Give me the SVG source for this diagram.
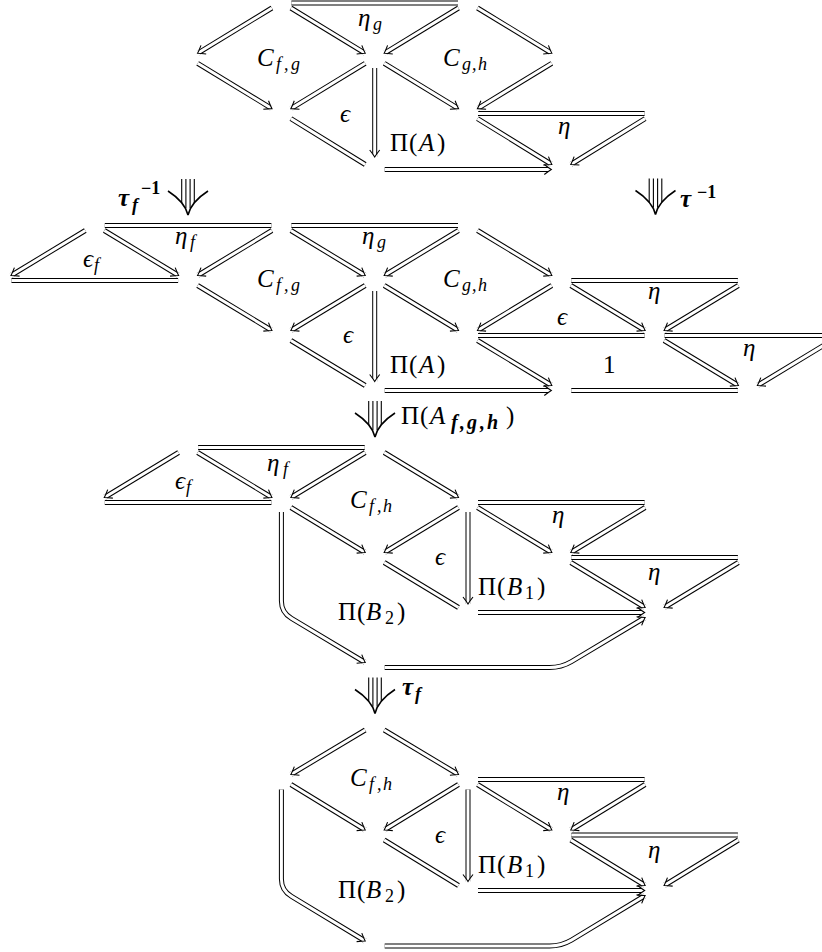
<svg xmlns="http://www.w3.org/2000/svg" width="822" height="952" viewBox="0 0 822 952">
<style>
.o{fill:none;stroke:#000;stroke-width:5}
.i{fill:none;stroke:#fff;stroke-width:3}
.h{marker-end:url(#h)}
text{font-family:"Liberation Serif","DejaVu Serif",serif;font-size:25px;fill:#000}
.it{font-style:italic}
.up{font-style:normal}
.s{font-size:18px}
.b{font-weight:bold}
</style>
<defs>
<marker id="h" markerUnits="userSpaceOnUse" orient="auto" markerWidth="20" markerHeight="20" viewBox="-10 -10 20 20" refX="0" refY="0" overflow="visible">
<path d="M-3.9,-2.7 L-3,-2 L-2.32,-1.52 L-1.375,-0.875 L-0.52,-0.32 L0,0 L-0.52,0.32 L-1.375,0.875 L-2.32,1.52 L-3,2 L-3.9,2.7 L1,2.7 L1,-2.7 Z" fill="#fff"/>
<path d="M-7,-5 Q-2.5,-1.5 0,0 Q-2.5,1.5 -7,5" fill="none" stroke="#000" stroke-width="1.1"/>
</marker>
<path id="a1" d="M271.9,8 L197.6,53.3"/>
<path id="a2" d="M290.9,8 L365.2,53.3"/>
<path id="a3" d="M458.5,8 L384.2,53.3"/>
<path id="a4" d="M477.5,8 L551.8,53.3"/>
<path id="a5" d="M291.4,3 L458,3"/>
<path id="a6" d="M197.6,63.3 L271.9,108.6"/>
<path id="a7" d="M365.2,63.3 L290.9,108.6"/>
<path id="a8" d="M384.2,63.3 L458.5,108.6"/>
<path id="a9" d="M551.8,63.3 L477.5,108.6"/>
<path id="a10" d="M374.7,68 L374.7,157"/>
<path id="a11" d="M290.9,118.6 L365.2,164.5"/>
<path id="a12" d="M478,113.6 L644.6,113.6"/>
<path id="a13" d="M477.5,118.6 L551.8,164.5"/>
<path id="a14" d="M645.1,118.6 L570.8,164.5"/>
<path id="a15" d="M384.7,169.5 L551.3,169.5"/>
<path id="b1" d="M104.8,225.5 L271.4,225.5"/>
<path id="b2" d="M291.4,225.5 L458,225.5"/>
<path id="b3" d="M85.3,230.5 L11,275.5"/>
<path id="b4" d="M104.3,230.5 L178.6,275.5"/>
<path id="b5" d="M11.5,280.5 L178.1,280.5"/>
<path id="b6" d="M271.9,230.5 L197.6,275.5"/>
<path id="b7" d="M290.9,230.5 L365.2,275.5"/>
<path id="b8" d="M458.5,230.5 L384.2,275.5"/>
<path id="b9" d="M477.5,230.5 L551.8,275.5"/>
<path id="b10" d="M197.6,285.5 L271.9,330.5"/>
<path id="b11" d="M365.2,285.5 L290.9,330.5"/>
<path id="b12" d="M384.2,285.5 L458.5,330.5"/>
<path id="b13" d="M551.8,285.5 L477.5,330.5"/>
<path id="b14" d="M374.7,291 L374.7,381.5"/>
<path id="b15" d="M571.3,280.5 L737.9,280.5"/>
<path id="b16" d="M570.8,285.5 L645.1,330.5"/>
<path id="b17" d="M738.4,285.5 L664.1,330.5"/>
<path id="b18" d="M478,335.5 L644.6,335.5"/>
<path id="b19" d="M664.6,335.5 L831.2,335.5"/>
<path id="b20" d="M290.9,340.5 L365.2,385.5"/>
<path id="b21" d="M477.5,340.5 L551.8,385.5"/>
<path id="b22" d="M664.1,340.5 L738.4,385.5"/>
<path id="b23" d="M831.7,340.5 L757.4,385.5"/>
<path id="b24" d="M384.7,390.5 L551.3,390.5"/>
<path id="b25" d="M571.3,390.5 L737.9,390.5"/>
<path id="c1" d="M198.1,447.5 L364.7,447.5"/>
<path id="c2" d="M178.6,452.5 L104.3,497.5"/>
<path id="c3" d="M197.6,452.5 L271.9,497.5"/>
<path id="c4" d="M104.8,502.5 L271.4,502.5"/>
<path id="c5" d="M365.2,452.5 L290.9,497.5"/>
<path id="c6" d="M384.2,452.5 L458.5,497.5"/>
<path id="c7" d="M290.9,507.5 L365.2,552.5"/>
<path id="c8" d="M458.5,507.5 L384.2,552.5"/>
<path id="c9" d="M468,512 L468,604"/>
<path id="c10" d="M384.2,562.5 L458.5,607.5"/>
<path id="c11" d="M478,502.5 L644.6,502.5"/>
<path id="c12" d="M477.5,507.5 L551.8,552.5"/>
<path id="c13" d="M645.1,507.5 L570.8,552.5"/>
<path id="c14" d="M571.3,557.5 L737.9,557.5"/>
<path id="c15" d="M570.8,562.5 L645.1,607.5"/>
<path id="c16" d="M738.4,562.5 L664.1,607.5"/>
<path id="c17" d="M478,612.5 L644.6,612.5"/>
<path id="c18" d="M281.4,512 L281.4,601 Q281.4,612.5 291.5,618.4 L365.2,662.5"/>
<path id="c19" d="M384.7,667.5 L549.6,667.5 Q561.3,667.5 571.4,661.6 L645.1,617.5"/>
<path id="d1" d="M365.2,730 L290.9,774.5"/>
<path id="d2" d="M384.2,730 L458.5,774.5"/>
<path id="d3" d="M290.9,784.5 L365.2,830"/>
<path id="d4" d="M458.5,784.5 L384.2,830"/>
<path id="d5" d="M468,789.5 L468,881.5"/>
<path id="d6" d="M384.2,840 L458.5,885.5"/>
<path id="d7" d="M478,779.5 L644.6,779.5"/>
<path id="d8" d="M477.5,784.5 L551.8,830"/>
<path id="d9" d="M645.1,784.5 L570.8,830"/>
<path id="d10" d="M571.3,835 L737.9,835"/>
<path id="d11" d="M570.8,840 L645.1,885.5"/>
<path id="d12" d="M738.4,840 L664.1,885.5"/>
<path id="d13" d="M478,890.5 L644.6,890.5"/>
<path id="d14" d="M281.4,789.5 L281.4,879 Q281.4,890.5 291.5,896.4 L365.2,941"/>
<path id="d15" d="M384.7,946 L549.6,946 Q561.3,946 571.4,940.1 L645.1,895.5"/>
<g id="tri" fill="none" stroke="#000">
<line x1="-6.3" y1="-36" x2="-6.3" y2="-12" stroke-width="1.1"/>
<line x1="-2.1" y1="-36" x2="-2.1" y2="-7" stroke-width="1.1"/>
<line x1="2.1" y1="-36" x2="2.1" y2="-7" stroke-width="1.1"/>
<line x1="6.3" y1="-36" x2="6.3" y2="-12" stroke-width="1.1"/>
<path d="M-20,-24 Q-3,-13 0,0 Q3,-13 20,-24" stroke-width="1.6"/>
</g>
</defs>
<rect width="822" height="952" fill="#fff"/>
<g id="connectors">
<g class="o">
<use href="#a1"/><use href="#a2"/><use href="#a3"/><use href="#a4"/><use href="#a5"/><use href="#a6"/><use href="#a7"/><use href="#a8"/><use href="#a9"/><use href="#a10"/><use href="#a11"/><use href="#a12"/><use href="#a13"/><use href="#a14"/><use href="#a15"/>
<use href="#b1"/><use href="#b2"/><use href="#b3"/><use href="#b4"/><use href="#b5"/><use href="#b6"/><use href="#b7"/><use href="#b8"/><use href="#b9"/><use href="#b10"/><use href="#b11"/><use href="#b12"/><use href="#b13"/><use href="#b14"/><use href="#b15"/><use href="#b16"/><use href="#b17"/><use href="#b18"/><use href="#b19"/><use href="#b20"/><use href="#b21"/><use href="#b22"/><use href="#b23"/><use href="#b24"/><use href="#b25"/>
<use href="#c1"/><use href="#c2"/><use href="#c3"/><use href="#c4"/><use href="#c5"/><use href="#c6"/><use href="#c7"/><use href="#c8"/><use href="#c9"/><use href="#c10"/><use href="#c11"/><use href="#c12"/><use href="#c13"/><use href="#c14"/><use href="#c15"/><use href="#c16"/><use href="#c17"/><use href="#c18"/><use href="#c19"/>
<use href="#d1"/><use href="#d2"/><use href="#d3"/><use href="#d4"/><use href="#d5"/><use href="#d6"/><use href="#d7"/><use href="#d8"/><use href="#d9"/><use href="#d10"/><use href="#d11"/><use href="#d12"/><use href="#d13"/><use href="#d14"/><use href="#d15"/>
</g>
<g class="i">
<use href="#a1" class="h"/><use href="#a2" class="h"/><use href="#a3" class="h"/><use href="#a4" class="h"/><use href="#a5"/><use href="#a6" class="h"/><use href="#a7" class="h"/><use href="#a8" class="h"/><use href="#a9" class="h"/><use href="#a10" class="h"/><use href="#a11"/><use href="#a12"/><use href="#a13" class="h"/><use href="#a14" class="h"/><use href="#a15" class="h"/>
<use href="#b1"/><use href="#b2"/><use href="#b3" class="h"/><use href="#b4" class="h"/><use href="#b5"/><use href="#b6" class="h"/><use href="#b7" class="h"/><use href="#b8" class="h"/><use href="#b9" class="h"/><use href="#b10" class="h"/><use href="#b11" class="h"/><use href="#b12" class="h"/><use href="#b13" class="h"/><use href="#b14" class="h"/><use href="#b15"/><use href="#b16" class="h"/><use href="#b17" class="h"/><use href="#b18"/><use href="#b19"/><use href="#b20"/><use href="#b21" class="h"/><use href="#b22" class="h"/><use href="#b23" class="h"/><use href="#b24" class="h"/><use href="#b25"/>
<use href="#c1"/><use href="#c2" class="h"/><use href="#c3" class="h"/><use href="#c4"/><use href="#c5" class="h"/><use href="#c6" class="h"/><use href="#c7" class="h"/><use href="#c8" class="h"/><use href="#c9" class="h"/><use href="#c10"/><use href="#c11"/><use href="#c12" class="h"/><use href="#c13" class="h"/><use href="#c14"/><use href="#c15" class="h"/><use href="#c16" class="h"/><use href="#c17" class="h"/><use href="#c18" class="h"/><use href="#c19" class="h"/>
<use href="#d1" class="h"/><use href="#d2" class="h"/><use href="#d3" class="h"/><use href="#d4" class="h"/><use href="#d5" class="h"/><use href="#d6"/><use href="#d7"/><use href="#d8" class="h"/><use href="#d9" class="h"/><use href="#d10"/><use href="#d11" class="h"/><use href="#d12" class="h"/><use href="#d13" class="h"/><use href="#d14" class="h"/><use href="#d15" class="h"/>
</g>
</g>
<g id="cell-tau-f-inv"><use href="#tri" transform="translate(188,215)"/></g>
<g id="cell-tau-inv"><use href="#tri" transform="translate(655.5,214.5)"/></g>
<g id="cell-pi-afgh"><use href="#tri" transform="translate(375,437)"/></g>
<g id="cell-tau-f"><use href="#tri" transform="translate(375,713.5)"/></g>
<g id="labels-1">
<g id="l1-eta-g"><text class="it" x="358" y="26">η<tspan class="s" x="373" y="30">g</tspan></text></g>
<g id="l1-cfg"><text class="it" x="257" y="66">C<tspan class="s" x="276 284 291" y="70">f,g</tspan></text></g>
<g id="l1-cgh"><text class="it" x="443" y="66">C<tspan class="s" x="462 472 478" y="70">g,h</tspan></text></g>
<g id="l1-eps"><text class="it" x="340" y="122">ϵ</text></g>
<g id="l1-pia"><text x="390" y="151">Π<tspan x="409">(</tspan><tspan class="it" x="419">A</tspan><tspan x="437">)</tspan></text></g>
<g id="l1-eta"><text class="it" x="558" y="134">η</text></g>
</g>
<g id="labels-2">
<g id="l2-tau-f-inv"><text class="it b" x="118" y="206">τ<tspan class="s" x="132" y="211">f</tspan><tspan class="s up" x="141" y="194">−1</tspan></text></g>
<g id="l2-tau-inv"><text class="it b" x="680" y="207">τ<tspan class="s up" x="697" y="198">−1</tspan></text></g>
<g id="l2-eta-f"><text class="it" x="175" y="244">η<tspan class="s" x="190" y="248">f</tspan></text></g>
<g id="l2-eps-f"><text class="it" x="83" y="267">ϵ<tspan class="s" x="94" y="271">f</tspan></text></g>
<g id="l2-eta-g"><text class="it" x="362" y="244">η<tspan class="s" x="377" y="248">g</tspan></text></g>
<g id="l2-cfg"><text class="it" x="257" y="287">C<tspan class="s" x="276 284 291" y="291">f,g</tspan></text></g>
<g id="l2-cgh"><text class="it" x="443" y="287">C<tspan class="s" x="462 472 478" y="291">g,h</tspan></text></g>
<g id="l2-eps"><text class="it" x="343" y="343">ϵ</text></g>
<g id="l2-pia"><text x="390" y="373">Π<tspan x="409">(</tspan><tspan class="it" x="419">A</tspan><tspan x="437">)</tspan></text></g>
<g id="l2-eta1"><text class="it" x="648" y="299">η</text></g>
<g id="l2-eps2"><text class="it" x="557" y="325">ϵ</text></g>
<g id="l2-eta2"><text class="it" x="743" y="356">η</text></g>
<g id="l2-one"><text x="603" y="373">1</text></g>
</g>
<g id="labels-3">
<g id="l3-pi-afgh"><text x="401" y="424">Π<tspan x="420">(</tspan><tspan class="it" x="430">A</tspan><tspan class="it b" font-size="20" x="451 460 467 480 487" y="429">f,g,h</tspan><tspan x="506" y="424">)</tspan></text></g>
<g id="l3-eta-f"><text class="it" x="267" y="471">η<tspan class="s" x="283" y="475">f</tspan></text></g>
<g id="l3-eps-f"><text class="it" x="175" y="489">ϵ<tspan class="s" x="186" y="493">f</tspan></text></g>
<g id="l3-cfh"><text class="it" x="350" y="508">C<tspan class="s" x="369 377 383" y="512">f,h</tspan></text></g>
<g id="l3-eps"><text class="it" x="435" y="565">ϵ</text></g>
<g id="l3-pib2"><text x="338" y="620">Π<tspan x="357">(</tspan><tspan class="it" x="366">B</tspan><tspan class="s" x="385" y="624">2</tspan><tspan x="397" y="620">)</tspan></text></g>
<g id="l3-eta1"><text class="it" x="552" y="523">η</text></g>
<g id="l3-eta2"><text class="it" x="648" y="580">η</text></g>
<g id="l3-pib1"><text x="478" y="595">Π<tspan x="497">(</tspan><tspan class="it" x="507">B</tspan><tspan class="s" x="525" y="599">1</tspan><tspan x="537" y="595">)</tspan></text></g>
</g>
<g id="labels-4">
<g id="l4-tau-f"><text class="it b" x="402" y="695">τ<tspan class="s" x="415" y="700">f</tspan></text></g>
<g id="l4-cfh"><text class="it" x="350" y="785.5">C<tspan class="s" x="369 377 383" y="789.5">f,h</tspan></text></g>
<g id="l4-eta1"><text class="it" x="557" y="800">η</text></g>
<g id="l4-eps"><text class="it" x="435" y="842.5">ϵ</text></g>
<g id="l4-pib1"><text x="478" y="873">Π<tspan x="497">(</tspan><tspan class="it" x="507">B</tspan><tspan class="s" x="525" y="877">1</tspan><tspan x="537" y="873">)</tspan></text></g>
<g id="l4-eta2"><text class="it" x="648" y="857.5">η</text></g>
<g id="l4-pib2"><text x="338" y="898">Π<tspan x="357">(</tspan><tspan class="it" x="366">B</tspan><tspan class="s" x="385" y="902">2</tspan><tspan x="397" y="898">)</tspan></text></g>
</g>
</svg>
